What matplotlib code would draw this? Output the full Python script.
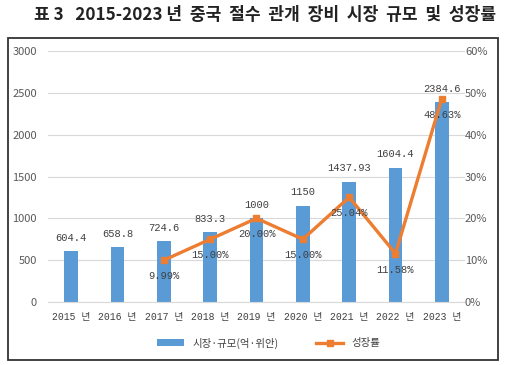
import matplotlib.pyplot as plt
from matplotlib.patches import Rectangle

years = ["2015 년", "2016 년", "2017 년", "2018 년", "2019 년",
         "2020 년", "2021 년", "2022 년", "2023 년"]
size_labels = ["604.4", "658.8", "724.6", "833.3", "1000",
               "1150", "1437.93", "1604.4", "2384.6"]
market_size = [604.4, 658.8, 724.6, 833.3, 1000, 1150, 1437.93, 1604.4, 2384.6]
growth_years = [2, 3, 4, 5, 6, 7, 8]
growth_rate = [9.99, 15.00, 20.00, 15.00, 25.04, 11.58, 48.63]

bar_color = "#5B9BD5"
line_color = "#ED7D31"
text_gray = "#595959"
mono = ["Liberation Mono", "Noto Sans CJK KR"]

plt.rcParams["font.family"] = ["Noto Sans CJK KR", "DejaVu Sans"]

fig = plt.figure(figsize=(5.05, 3.65), dpi=100)

# title + outer frame
fig.text(265 / 505, 1 - 15 / 365,
         "표 3   2015-2023 년  중국  절수  관개  장비  시장  규모  및  성장률",
         ha="center", va="center", fontsize=12.3, fontweight="bold", color="#222222")
fig.patches.append(Rectangle((8 / 505, 1 - 360 / 365), 490 / 505, 322 / 365,
                             transform=fig.transFigure, fill=False,
                             edgecolor="#333333", linewidth=1.3))

ax = fig.add_axes([48 / 505, 1 - 302 / 365, 417 / 505, 251 / 365])
x = list(range(len(years)))
ax.bar(x, market_size, width=0.3, color=bar_color, zorder=2,
       label="시장·규모(억·위안)")
ax.set_ylim(0, 3000)
ax.set_xlim(-0.5, 8.5)
ax.set_yticks(range(0, 3001, 500))
ax.set_xticks(x)
ax.set_xticklabels(years, family=mono, fontsize=7, color="#404040")
ax.tick_params(axis="y", labelsize=8, colors=text_gray, length=0, pad=8)
ax.tick_params(axis="x", length=0, pad=7)
ax.grid(axis="y", color="#D9D9D9", linewidth=0.8, zorder=0)
for s in ax.spines.values():
    s.set_visible(False)
ax.spines["bottom"].set_visible(True)
ax.spines["bottom"].set_color("#D9D9D9")

for xi, v, lab in zip(x, market_size, size_labels):
    ax.annotate(lab, (xi, v), xytext=(0, 6), textcoords="offset points",
                ha="center", va="bottom", family=mono, fontsize=7.5, color="#404040")

ax2 = ax.twinx()
ax2.plot(growth_years, growth_rate, color=line_color, linewidth=2.4,
         marker="s", markersize=5, zorder=3, label="성장률")
ax2.set_ylim(0, 60)
ax2.set_yticks(range(0, 61, 10))
ax2.set_yticklabels([f"{v}%" for v in range(0, 61, 10)])
ax2.tick_params(axis="y", labelsize=8, colors=text_gray, length=0, pad=0)
for s in ax2.spines.values():
    s.set_visible(False)
for xi, v in zip(growth_years, growth_rate):
    ax2.annotate(f"{v:.2f}%", (xi, v), xytext=(0, -8), textcoords="offset points",
                 ha="center", va="top", family=mono, fontsize=7.5, color="#404040")

h1, l1 = ax.get_legend_handles_labels()
h2, l2 = ax2.get_legend_handles_labels()
fig.legend(h1 + h2, l1 + l2, loc="center", bbox_to_anchor=(0.532, 1 - 343 / 365),
           ncol=2, frameon=False, fontsize=7.5, handlelength=2.6,
           columnspacing=3.6, labelcolor="#404040")

fig.savefig("out.png", dpi=100)
